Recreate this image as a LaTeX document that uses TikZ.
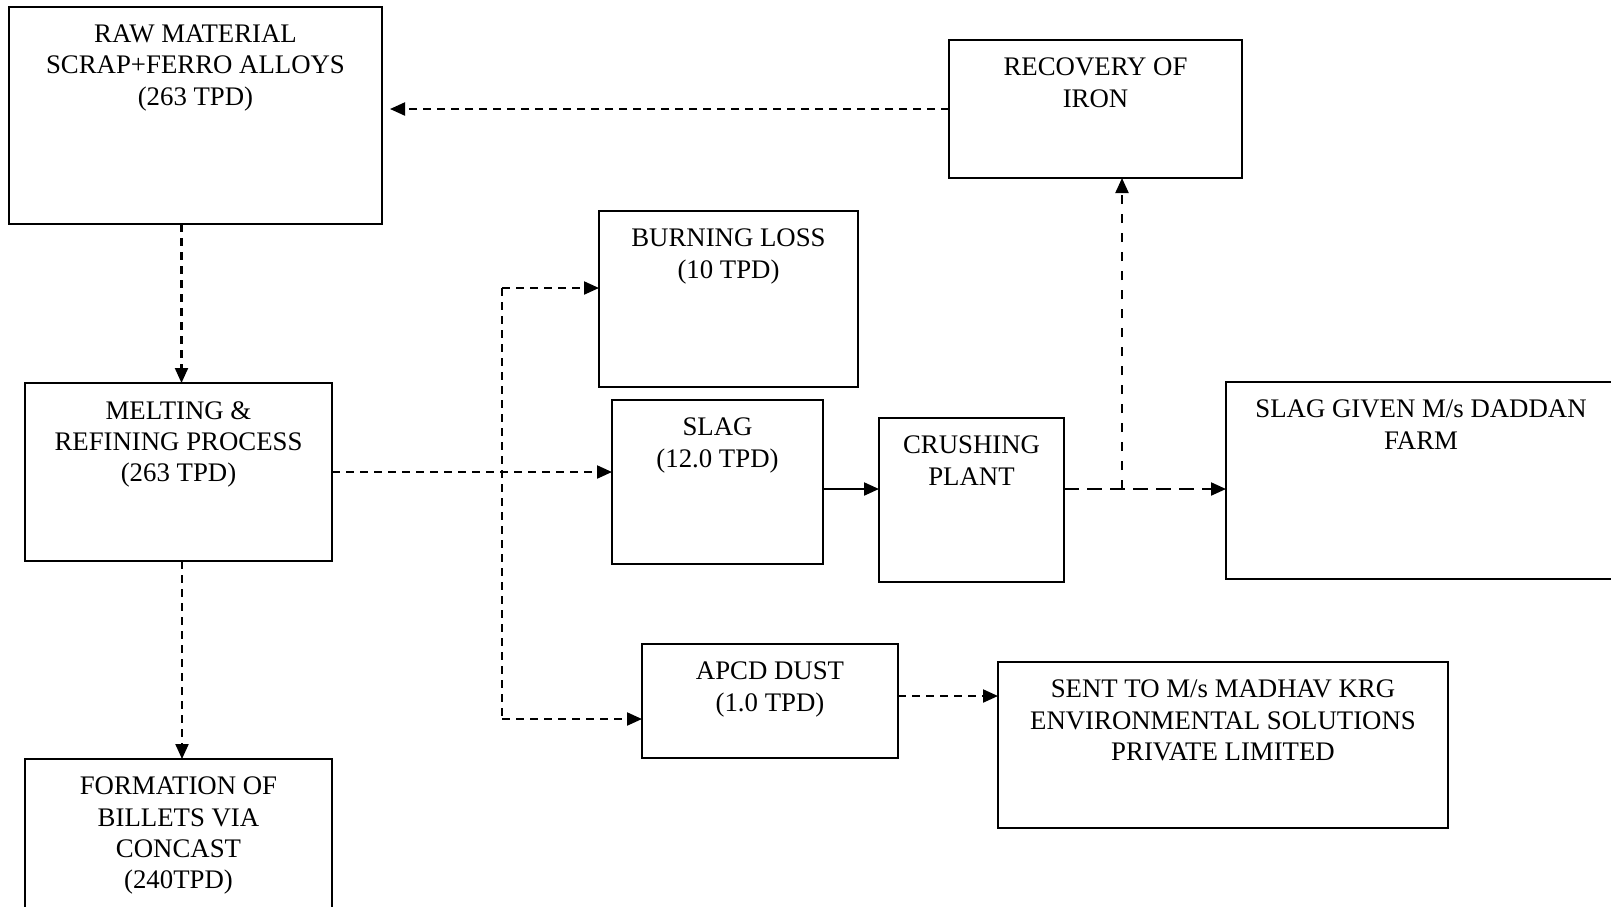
\documentclass[tikz,border=0pt]{standalone}
\usepackage{fontspec}
\setmainfont{Liberation Serif}
\usetikzlibrary{arrows.meta,calc}
\begin{document}
\begin{tikzpicture}[x=1pt,y=-1pt,
  box/.style={draw,line width=2pt,inner sep=0pt,outer sep=0pt,anchor=north west},
  txt/.style={anchor=north,inner sep=0pt,align=center,font=\fontsize{26.8pt}{31.1pt}\selectfont},
  dline/.style={line width=2.1pt,dash pattern=on 8pt off 6pt},
  ldline/.style={line width=2.1pt,dash pattern=on 15pt off 8pt},
  vdline/.style={line width=2.1pt,dash pattern=on 9pt off 10pt},
  arr/.style={-{Triangle[length=15pt,width=13pt]}}
]
\useasboundingbox (0,0) rectangle (1611,906);
\clip (0,0) rectangle (1611,906);
% boxes
\node[box,minimum width=373pt,minimum height=217pt] (raw) at (9,7) {};
\node[box,minimum width=293pt,minimum height=138pt] (recov) at (949,40) {};
\node[box,minimum width=259pt,minimum height=176pt] (burn) at (599,211) {};
\node[box,minimum width=307pt,minimum height=178pt] (melt) at (25,383) {};
\node[box,minimum width=211pt,minimum height=164pt] (slag) at (612,400) {};
\node[box,minimum width=185pt,minimum height=164pt] (crush) at (879,418) {};
\node[box,minimum width=390pt,minimum height=197pt] (given) at (1226,382) {};
\node[box,minimum width=256pt,minimum height=114pt] (apcd) at (642,644) {};
\node[box,minimum width=450pt,minimum height=166pt] (sent) at (998,662) {};
\node[box,minimum width=307pt,minimum height=200pt] (form) at (25,759) {};
% texts
\node[txt] (rawt) at ([yshift=-18pt]raw.north) {RAW MATERIAL\\SCRAP+FERRO ALLOYS\\(263 TPD)};
\node[txt] (recovt) at ([yshift=-18pt]recov.north) {RECOVERY OF\\IRON};
\node[txt] (burnt) at ([yshift=-18pt]burn.north) {BURNING LOSS\\(10 TPD)};
\node[txt] (meltt) at ([yshift=-18pt]melt.north) {MELTING \&\\REFINING PROCESS\\(263 TPD)};
\node[txt] (slagt) at ([yshift=-18pt]slag.north) {SLAG\\(12.0 TPD)};
\node[txt] (crusht) at ([yshift=-18pt]crush.north) {CRUSHING\\PLANT};
\node[txt] (givent) at ([yshift=-18pt]given.north) {SLAG GIVEN M/s DADDAN\\FARM};
\node[txt] (apcdt) at ([yshift=-18pt]apcd.north) {APCD DUST\\(1.0 TPD)};
\node[txt] (sentt) at ([yshift=-18pt]sent.north) {SENT TO M/s MADHAV KRG\\ENVIRONMENTAL SOLUTIONS\\PRIVATE LIMITED};
\node[txt] (formt) at ([yshift=-18pt]form.north) {FORMATION OF\\BILLETS VIA\\CONCAST\\(240TPD)};
% helper coordinates
\coordinate (btop) at (502,288);
\coordinate (bbot) at (502,719);
\coordinate (sc) at (823,489);
\coordinate (jn) at (1122,489);
\coordinate (ay) at (898,696);
% connectors
\draw[dline,arr] ([xshift=-14pt]raw.south) -- ([xshift=-14pt]raw.south |- melt.north);
\draw[dline,arr] ([xshift=3.5pt]melt.south) -- ([xshift=3.5pt]melt.south |- form.north);
\draw[dline,arr] (melt.east) -- (melt.east -| slag.west);
\draw[dline,arr] (btop) -- (btop -| burn.west);
\draw[dline] (btop) -- (bbot);
\draw[dline,arr] (bbot) -- (bbot -| apcd.west);
\draw[line width=2.1pt,arr] (sc -| slag.east) -- (sc -| crush.west);
\draw[ldline,arr] (sc -| crush.east) -- (sc -| given.west);
\draw[vdline,arr] (jn) -- (jn |- recov.south);
\draw[dline,arr] (recov.west) -- ([xshift=8pt]recov.west -| raw.east);
\draw[dline,arr] (ay -| apcd.east) -- (ay -| sent.west);
\end{tikzpicture}
\end{document}
